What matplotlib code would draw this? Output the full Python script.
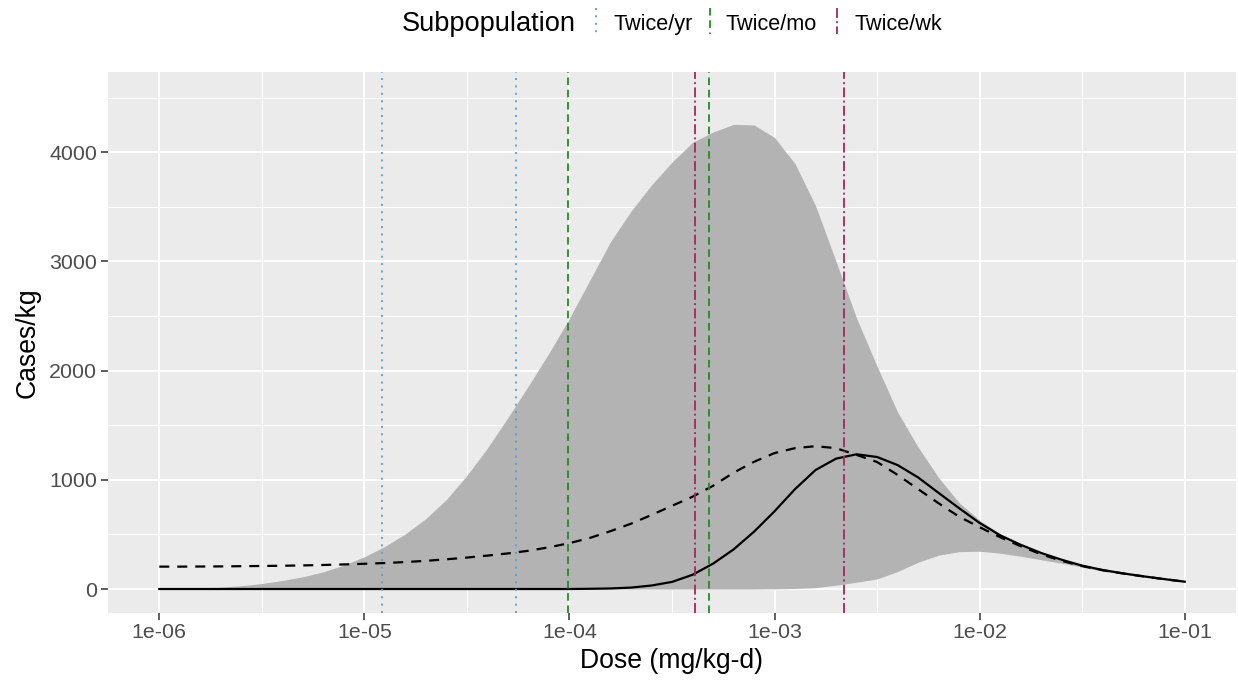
import numpy as np
import matplotlib
matplotlib.use("Agg")
import matplotlib.pyplot as plt
from matplotlib.lines import Line2D
from matplotlib.ticker import FixedLocator

# dose grid (log10 mg/kg-d) and read-off values
log_dose = [-6.0, -5.9, -5.8, -5.7, -5.6, -5.5, -5.4, -5.3, -5.2, -5.1,
            -5.0, -4.9, -4.8, -4.7, -4.6, -4.5, -4.4, -4.3, -4.2, -4.1,
            -4.0, -3.9, -3.8, -3.7, -3.6, -3.5, -3.4, -3.3, -3.2, -3.1,
            -3.0, -2.9, -2.8, -2.7, -2.6, -2.5, -2.4, -2.3, -2.2, -2.1,
            -2.0, -1.9, -1.8, -1.7, -1.6, -1.5, -1.4, -1.3, -1.2, -1.1,
            -1.0]

upper = [0, 3, 8, 17, 30, 50, 78, 112, 158, 218,
         295, 390, 505, 645, 820, 1040, 1290, 1570, 1860, 2160,
         2480, 2830, 3180, 3460, 3700, 3910, 4090, 4185, 4255, 4250,
         4135, 3895, 3510, 3000, 2480, 2040, 1620, 1300, 1020, 790,
         630, 505, 400, 322, 262, 214, 176, 145, 118, 92,
         70]

lower = [0, 0, 0, 0, 0, 0, 0, 0, 0, 0,
         0, 0, 0, 0, 0, 0, 0, 0, 0, 0,
         0, 0, 0, 0, 0, 0, 0, 0, 0, 0,
         2, 5, 12, 35, 62, 92, 160, 245, 310, 342,
         346, 328, 300, 268, 236, 200, 163, 135, 109, 85,
         64]

median = [0, 0, 0, 0, 0, 0, 0, 0, 0, 0,
          0, 0, 0, 0, 0, 0, 0, 0, 0, 0,
          0, 2, 5, 13, 32, 65, 130, 232, 362, 525,
          712, 915, 1090, 1194, 1234, 1209, 1135, 1022, 880, 740,
          605, 492, 405, 330, 268, 214, 174, 143, 116, 91,
          67]

mean = [205, 205, 206, 207, 209, 211, 213, 216, 220, 225,
        231, 238, 247, 258, 272, 288, 306, 326, 350, 382,
        420, 468, 530, 598, 678, 762, 845, 945, 1065, 1165,
        1245, 1290, 1308, 1290, 1228, 1163, 1045, 915, 785, 662,
        566, 474, 392, 318, 258, 210, 172, 142, 115, 90,
        67]

subpops = ["Twice/yr", "Twice/mo", "Twice/wk"]
subpop_doses = {
    "Twice/yr": [1.22e-5, 5.5e-5],
    "Twice/mo": [9.8e-5, 4.8e-4],
    "Twice/wk": [4.1e-4, 2.17e-3],
}
subpop_colors = {"Twice/yr": "#5B9BD5", "Twice/mo": "#228B22", "Twice/wk": "#A0285C"}
subpop_dashes = {"Twice/yr": (0, (1.1, 3.0)),
                 "Twice/mo": (0, (4.2, 2.6)),
                 "Twice/wk": (0, (5.5, 1.8, 1.1, 1.8))}

x_ticks = [1e-6, 1e-5, 1e-4, 1e-3, 1e-2, 1e-1]
x_tick_labels = ["1e-06", "1e-05", "1e-04", "1e-03", "1e-02", "1e-01"]
y_ticks = [0, 1000, 2000, 3000, 4000]

plt.rcParams["font.family"] = ["Liberation Sans", "DejaVu Sans"]

W, H = 1238, 683
fig = plt.figure(figsize=(W / 100, H / 100), dpi=100)
ax = fig.add_axes([108 / W, 1 - 612.7 / H, (1236 - 108) / W, (612.7 - 72) / H])

dose = 10 ** np.array(log_dose)

ax.set_facecolor("#EBEBEB")
for s in ax.spines.values():
    s.set_visible(False)

ax.set_xscale("log")
ax.set_xlim(10 ** -6.25, 10 ** -0.75)
ax.set_ylim(-217, 4735)

ax.set_xticks(x_ticks)
ax.set_xticklabels(x_tick_labels)
ax.xaxis.set_minor_locator(FixedLocator([10 ** e for e in (-5.5, -4.5, -3.5, -2.5, -1.5)]))
ax.xaxis.set_minor_formatter(plt.NullFormatter())
ax.set_yticks(y_ticks)
ax.set_yticks([500, 1500, 2500, 3500, 4500], minor=True)

ax.grid(which="major", color="white", linewidth=1.5)
ax.grid(which="minor", color="white", linewidth=0.75)
ax.set_axisbelow(True)
ax.tick_params(which="major", length=4.7, width=1.1, color="#333333",
               labelsize=15.4, labelcolor="#4D4D4D", pad=3)
ax.tick_params(which="minor", length=0)

ax.fill_between(dose, lower, upper, color="#B3B3B3", linewidth=0, zorder=2)
ax.plot(dose, median, color="black", linewidth=1.6, zorder=3)
ax.plot(dose, mean, color="black", linewidth=1.6, linestyle=(0, (4.5, 3.6)), zorder=3)

for name in subpops:
    for d in subpop_doses[name]:
        ax.axvline(d, color=subpop_colors[name], linewidth=1.3,
                   linestyle=subpop_dashes[name], zorder=4)

ax.set_xlabel("Dose (mg/kg-d)", fontsize=19.2, labelpad=4)
ax.set_ylabel("Cases/kg", fontsize=19.2, labelpad=6)

# legend across the top
fig.text(402 / W, 1 - 30.7 / H, "Subpopulation", fontsize=19.6, va="baseline", ha="left")
key_x = [595.5, 710, 837]
text_x = [613.5, 726, 854.6]
for name, kx, tx in zip(subpops, key_x, text_x):
    fig.add_artist(Line2D([kx / W, kx / W], [1 - 7.6 / H, 1 - 34.4 / H],
                          transform=fig.transFigure, color=subpop_colors[name],
                          linewidth=1.3, linestyle=subpop_dashes[name]))
    fig.text(tx / W, 1 - 29.9 / H, name, fontsize=15.6, va="baseline", ha="left")

fig.savefig("out.png", dpi=100)
